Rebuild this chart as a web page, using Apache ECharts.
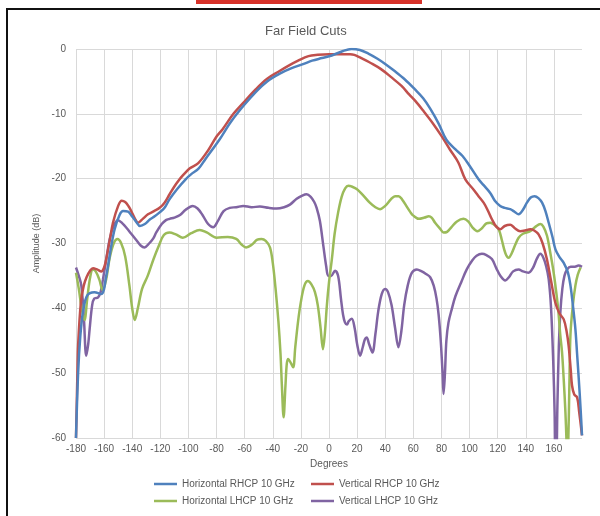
<!DOCTYPE html>
<html>
<head>
<meta charset="utf-8">
<script src="https://cdn.jsdelivr.net/npm/echarts@6/dist/echarts.min.js"></script>
<style>html,body{margin:0;padding:0;background:#fff;}#c{width:600px;height:516px;}</style>
</head>
<body>
<div id="c"></div>
<script>
const seriesNames = ['Horizontal RHCP 10 GHz','Vertical RHCP 10 GHz','Horizontal LHCP 10 GHz','Vertical LHCP 10 GHz'];
const xTicks = {min:-180, max:180, step:20};
const yTicks = {min:-60, max:0, step:10};

const hRhcp = [[-180,-60],[-178.5,-50],[-177,-44.5],[-175,-40.5],[-172,-38],[-167,-37.5],[-162,-37.8],[-158.5,-35],[-155,-30.5],[-152.5,-27.8],[-149,-25.6],[-146.5,-25],[-143,-25.1],[-140.5,-25.7],[-137,-26.7],[-134.5,-27.3],[-131,-27],[-127.5,-26.3],[-124,-25.8],[-120.5,-25.2],[-117,-24.5],[-113.5,-23.2],[-108,-21.6],[-102,-20.1],[-98,-19.3],[-93,-18.5],[-88,-17],[-78,-14],[-70,-11.3],[-61,-8.8],[-52,-6.6],[-44,-5.0],[-35,-3.8],[-27,-3.0],[-18,-2.3],[-12,-1.8],[-5,-1.4],[2,-1.0],[10,-0.3],[16,0],[22,-0.15],[28,-0.7],[34.5,-1.5],[40,-2.3],[46.7,-3.4],[54,-4.7],[61,-6.2],[67,-7.6],[72,-9.2],[78,-11.5],[83.5,-14],[90,-15.5],[95,-16.5],[100,-18],[106.4,-20.1],[110,-21],[114.7,-22.2],[118,-23.4],[121.8,-24.2],[125,-24.5],[128.9,-24.7],[132,-25.1],[134.9,-25.5],[138,-24.8],[140.8,-23.7],[143.5,-22.9],[146.3,-22.7],[149,-23],[151.6,-23.7],[154,-25],[156.3,-26.8],[159,-29],[161.1,-30.9],[164,-32.1],[167,-33],[170,-34.5],[171.8,-36.5],[173.5,-39.5],[175.3,-43.2],[176.5,-47],[177.7,-50.9],[179,-55.5],[180,-59.6]];

const vRhcp = [[-180,-60],[-179,-50],[-178.5,-45.7],[-176.5,-39],[-174.5,-36.5],[-172.5,-35.2],[-170,-34.2],[-167.9,-33.8],[-165,-34],[-162,-34.3],[-160,-33.7],[-158.5,-32.4],[-156,-29.5],[-153.7,-26.8],[-150,-24.2],[-147.5,-23.4],[-145,-23.6],[-142.5,-24.3],[-140.7,-25],[-138,-26.2],[-135.9,-26.8],[-132.5,-26.2],[-128.8,-25.5],[-124.5,-25],[-120.5,-24.5],[-117,-23.7],[-113.4,-22.4],[-110,-21.2],[-106.3,-20.1],[-104,-19.5],[-99,-18.4],[-93,-17.6],[-85.6,-15.5],[-80,-13.5],[-75.8,-12.4],[-68,-10],[-61,-8.3],[-52,-6.2],[-44,-4.6],[-36,-3.5],[-29,-2.6],[-22,-1.8],[-14.6,-1.1],[-8,-0.9],[0,-0.8],[8,-0.8],[15,-0.8],[18,-0.9],[22,-1.3],[30,-2.2],[37,-3.1],[44,-4.3],[51.6,-5.7],[57,-7],[61.4,-8],[67,-9.5],[73.7,-11.4],[80,-13.4],[86,-15.5],[92,-17.5],[97,-20.1],[102.9,-21.7],[106,-22.6],[110,-23.7],[113,-24.9],[116,-26.3],[119,-27.4],[121.8,-27.8],[125,-27.3],[128.9,-27.1],[132,-27.6],[136,-28.1],[139.5,-28],[143.2,-27.8],[146,-28],[149.1,-28.6],[152,-30],[155,-32.4],[158,-35.8],[161,-39.1],[164,-40.8],[167,-41.7],[169,-43.5],[170.5,-45.8],[172,-49.5],[172.9,-51.9],[174.5,-53.3],[176.5,-53.7],[178,-56],[180,-59.6]];

const hLhcp = [[-180,-34.5],[-178,-37],[-176,-40],[-174,-41.8],[-172,-38.5],[-170,-35.3],[-168,-34],[-166,-34.3],[-163.5,-35.5],[-161,-37.2],[-158.5,-35.5],[-156,-32.2],[-153,-29.9],[-150.5,-29.3],[-148,-29.9],[-145,-32],[-142,-36.5],[-140,-40],[-138.2,-41.8],[-136,-40],[-133,-37],[-129,-35],[-125,-32.5],[-121,-30.3],[-117.5,-28.7],[-113.5,-28.3],[-109,-28.6],[-104,-29.1],[-98,-28.4],[-92,-27.9],[-87,-28.3],[-80,-29.1],[-72,-29],[-66,-29.3],[-62,-30.2],[-59,-30.6],[-55,-30.2],[-51,-29.4],[-48,-29.3],[-45,-29.6],[-42,-30.6],[-40,-33],[-38,-37],[-36,-42],[-34.5,-47],[-33.5,-52],[-32.3,-56.8],[-31,-52],[-30,-48.5],[-29,-47.8],[-27,-48.5],[-25.5,-49.1],[-24,-46],[-22,-42],[-20,-39],[-17.5,-36.5],[-15,-35.8],[-12.5,-36.3],[-10,-37.5],[-8,-39.5],[-6,-43],[-4.3,-46.3],[-3,-44],[-1.5,-39.5],[0,-36],[2,-32.5],[4,-28.5],[6.5,-25.2],[9,-22.8],[11.5,-21.5],[13.8,-21.1],[16,-21.2],[19.7,-21.6],[24,-22.5],[29,-23.7],[33,-24.4],[36.3,-24.7],[40,-24.2],[44,-23.2],[47,-22.7],[49.5,-22.7],[52,-23.2],[55,-24.2],[58,-25.2],[60,-25.7],[64,-26.2],[68,-26],[71,-25.8],[73,-26],[75.5,-26.8],[79,-27.7],[81.5,-28.3],[84,-28.2],[87,-27.5],[91,-26.6],[95.7,-26.2],[99,-26.6],[102,-27.5],[105.6,-28.1],[109,-27.6],[112,-26.9],[114.7,-26.8],[117.5,-27.1],[120.7,-27.8],[123,-29.5],[125.5,-31.5],[127.8,-32.2],[130,-31.5],[132.5,-30.2],[134.9,-29.1],[138,-28.5],[143.2,-28.1],[147,-27.4],[150.4,-27],[152.5,-27.4],[155.1,-28.8],[157.5,-31.5],[159.5,-34],[161.1,-36.5],[163,-40],[164.5,-44],[165.8,-46.8],[167,-51],[168.2,-56],[168.9,-60],[169.5,-64],[170.3,-60],[171,-52],[171.8,-44],[173.5,-39.5],[175.3,-36.5],[177,-34.8],[179,-33.7]];

const vLhcp = [[-180,-33.7],[-178,-35],[-176.2,-36.5],[-174.5,-41],[-172.7,-47.3],[-171.3,-45.5],[-170.3,-43.2],[-168.5,-39.5],[-167,-38.5],[-164.3,-38.3],[-162.5,-37.5],[-160.8,-35.5],[-158.5,-32.5],[-156,-29.3],[-153,-27.2],[-150.1,-26.4],[-147,-26.9],[-144,-27.6],[-140.7,-28.5],[-137,-29.5],[-134,-30.3],[-131.2,-30.6],[-128,-30],[-125,-29.2],[-122.9,-28.3],[-119,-27],[-116,-26.4],[-113.4,-26.2],[-110,-26],[-106,-25.6],[-102,-24.8],[-97,-24.2],[-93.5,-24.6],[-90,-25.6],[-86,-27],[-82.4,-27.5],[-79,-26.5],[-75,-25],[-70.6,-24.5],[-66,-24.4],[-61,-24.2],[-55,-24.4],[-49.2,-24.3],[-43,-24.5],[-37.3,-24.6],[-32,-24.4],[-27.8,-24],[-23,-23.1],[-19,-22.6],[-15.9,-22.4],[-13,-22.8],[-10.5,-23.6],[-8.8,-24.5],[-6.5,-26.5],[-4,-30.4],[-2,-33.5],[-0.5,-35],[1.5,-35],[4.3,-34.2],[6.5,-35],[8.5,-38.5],[10,-41],[11.4,-42.2],[12.8,-42.5],[14,-42],[16.2,-41.6],[18.2,-43],[20,-45.5],[22.1,-47.3],[24,-46],[25.5,-44.8],[26.8,-44.5],[28.5,-45.5],[30.9,-46.8],[33,-44],[35,-40.5],[37.5,-37.8],[39.9,-37],[42,-37.5],[44.5,-39.5],[47,-43],[49.4,-46],[51.5,-43.5],[53.5,-39.5],[56,-36.5],[59,-34.5],[62.5,-34],[66,-34.3],[69,-34.7],[72,-35.2],[74.5,-36.5],[76.5,-38.5],[78,-41],[79.5,-45],[80.8,-50],[81.5,-53.2],[82.5,-50],[83.5,-45],[85,-42.2],[87.5,-40],[90,-38.1],[94,-36],[98,-34],[102,-32.6],[105,-31.9],[108.8,-31.6],[112,-31.8],[115.9,-32.4],[119,-33.8],[122,-35],[125.4,-35.7],[128,-35.2],[131,-34.3],[134.9,-34],[138,-34.3],[142,-34.5],[145,-33.8],[148,-32.3],[150.4,-31.6],[152.5,-32.2],[154.5,-33.5],[156.3,-35.5],[158,-40],[159.5,-48],[160.5,-56],[161.1,-63],[161.7,-63],[162.5,-55],[163.5,-46],[164.6,-40.6],[166,-37],[167.5,-35],[169.4,-34],[172,-33.6],[175,-33.6],[177.5,-33.4],[180,-33.6]];

const colors = ['#4F81BD','#C0504D','#9BBB59','#8064A2'];
const seriesData = [hRhcp, vRhcp, hLhcp, vLhcp];
const FONT = '"Liberation Sans", Arial, sans-serif';
const TXT = '#595959';

const chart = echarts.init(document.getElementById('c'), null, {renderer:'canvas'});

const legendPos = [[154,479],[311,479],[154,496],[311,496]];
const legends = seriesNames.map((n,i)=>({
  data:[n], left:legendPos[i][0], top:legendPos[i][1], padding:0,
  icon:'rect', itemWidth:23, itemHeight:2.5, selectedMode:false,
  textStyle:{color:TXT, fontSize:10, fontFamily:FONT}
}));

chart.setOption({
  animation:false,
  backgroundColor:'#ffffff',
  color:colors,
  title:{text:'Far Field Cuts', left:265, top:25, padding:0, textStyle:{color:TXT, fontSize:13, fontWeight:'normal', fontFamily:FONT}},
  legend:legends,
  grid:{left:76, right:18, top:49, bottom:78},
  xAxis:{type:'value', min:xTicks.min, max:xTicks.max, interval:xTicks.step,
    name:'Degrees', nameLocation:'middle', nameGap:18,
    nameTextStyle:{color:TXT, fontSize:10, fontFamily:FONT},
    axisLine:{show:false}, axisTick:{show:false},
    axisLabel:{color:TXT, fontSize:10, fontFamily:FONT, margin:6, showMaxLabel:false},
    splitLine:{show:true, showMaxLine:false, lineStyle:{color:'#d9d9d9', width:1}}},
  yAxis:{type:'value', min:yTicks.min, max:yTicks.max, interval:yTicks.step,
    name:'Amplitude (dB)', nameLocation:'middle', nameGap:27, nameRotate:90,
    nameTextStyle:{color:TXT, fontSize:9, fontFamily:FONT},
    axisLine:{show:false}, axisTick:{show:false},
    axisLabel:{color:TXT, fontSize:10, fontFamily:FONT, margin:10},
    splitLine:{show:true, lineStyle:{color:'#d9d9d9', width:1}}},
  graphic:[
    {type:'rect', shape:{x:196, y:0, width:226, height:4}, style:{fill:'#D7322A'}},
    {type:'rect', shape:{x:6, y:8, width:594, height:2}, style:{fill:'#111'}},
    {type:'rect', shape:{x:6, y:8, width:2, height:508}, style:{fill:'#111'}}
  ],
  series: seriesNames.map((n,i)=>({
    name:n, type:'line', data:seriesData[i], symbol:'none', smooth:0.35, clip:true,
    lineStyle:{width:2.5, color:colors[i]}, itemStyle:{color:colors[i]}, z:4-i
  }))
});
</script>
</body>
</html>
